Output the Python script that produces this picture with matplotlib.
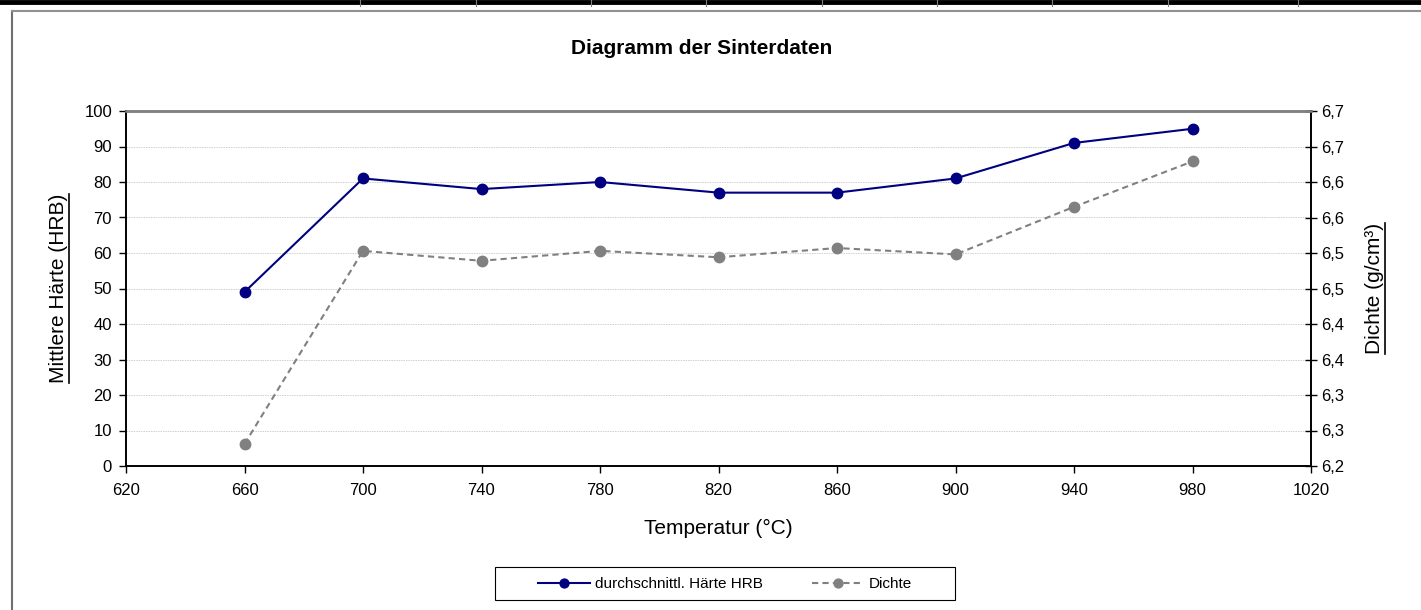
import numpy as np
import matplotlib
matplotlib.use("Agg")
from matplotlib import pyplot as plt
from matplotlib.lines import Line2D
from matplotlib.patches import Rectangle
from matplotlib.ticker import FuncFormatter

# Sinterdaten
temperatur = [660, 700, 740, 780, 820, 860, 900, 940, 980]
haerte = [49, 81, 78, 80, 77, 77, 81, 91, 95]
dichte = [6.231, 6.503, 6.489, 6.503, 6.494, 6.507, 6.498, 6.565, 6.629]

x_ticks = list(range(620, 1021, 40))
y1_ticks = list(range(0, 101, 10))
y2_ticks = np.arange(6.2, 6.701, 0.05)

plt.rcParams["font.family"] = ["Liberation Sans", "DejaVu Sans"]

fig = plt.figure(figsize=(14.21, 6.10), dpi=100)
ax = fig.add_axes([126 / 1421, 144 / 610, 1185 / 1421, 355 / 610])
ax2 = ax.twinx()

ax.plot(temperatur, haerte, color="#000080", linewidth=1.5, marker="o",
        markersize=7.5, label="durchschnittl. Härte HRB", zorder=3)
ax2.plot(temperatur, dichte, color="#808080", linewidth=1.5, linestyle=(0, (3, 2)),
         marker="o", markersize=7.5, label="Dichte", zorder=3)

ax.set_xlim(620, 1020)
ax.set_ylim(0, 100)
ax2.set_ylim(6.2, 6.7)
ax.set_xticks(x_ticks)
ax.set_yticks(y1_ticks)
ax2.set_yticks(y2_ticks)
ax2.yaxis.set_major_formatter(FuncFormatter(lambda v, p: f"{v + 1e-9:.1f}".replace(".", ",")))

ax.grid(axis="y", color="#d0d0d0", linestyle=(0, (1.5, 1)), linewidth=0.7)
ax.set_axisbelow(True)

for a in (ax, ax2):
    a.spines["top"].set_color("#808080")
    a.spines["top"].set_linewidth(1.8)
    for s in ("left", "bottom", "right"):
        a.spines[s].set_linewidth(1.2)
ax.tick_params(axis="y", labelsize=12, length=5, width=1, direction="out", pad=5)
ax.tick_params(axis="x", labelsize=12, length=5, width=1, direction="out", pad=7)
ax2.tick_params(axis="y", labelsize=12, length=8, width=1, direction="inout", pad=3)

ylab = ax.set_ylabel("Mittlere Härte (HRB)", fontsize=15)
ax.yaxis.set_label_coords((68 - 126) / 1185, 0.5)
y2lab = ax2.set_ylabel("Dichte (g/cm³)", fontsize=15)
ax2.yaxis.set_label_coords((1365 - 126) / 1185, 0.5)
ax.set_xlabel("Temperatur (°C)", fontsize=15)
ax.xaxis.set_label_coords(0.5, (466 - 519) / 355)

fig.text(702 / 1421, 1 - 48 / 610, "Diagramm der Sinterdaten", fontsize=15,
         fontweight="bold", ha="center", va="center")

# Legende mit eigenem Rahmen
h1, l1 = ax.get_legend_handles_labels()
h2, l2 = ax2.get_legend_handles_labels()
fig.legend(h1 + h2, l1 + l2, loc="center", bbox_to_anchor=(725 / 1421, 1 - 584 / 610),
           ncol=2, fontsize=11, frameon=False, handlelength=3.4, handletextpad=0.3,
           columnspacing=3.2, markerscale=0.85)
fig.add_artist(Rectangle((495 / 1421, 1 - 600 / 610), 460 / 1421, 33 / 610,
                         transform=fig.transFigure, fill=False, edgecolor="black", linewidth=0.8))

# unterstrichene Achsentitel
fig.canvas.draw()
inv = fig.transFigure.inverted()
for lab in (ylab, y2lab):
    bb = lab.get_window_extent()
    (x0, y0), (x1, y1) = inv.transform([[bb.x1 + 1, bb.y0], [bb.x1 + 1, bb.y1]])
    fig.add_artist(Line2D([x0, x1], [y0, y1], color="black", linewidth=1.2, transform=fig.transFigure))

# Diagrammrahmen und Tabellenzeile
fig.add_artist(Line2D([12 / 1421, 12 / 1421], [0, 1 - 11 / 610], color="#707070", linewidth=1.5))
fig.add_artist(Line2D([12 / 1421, 1], [1 - 11 / 610, 1 - 11 / 610], color="#909090", linewidth=1.5))
fig.add_artist(Line2D([0, 1], [1 - 2 / 610, 1 - 2 / 610], color="black", linewidth=3.5))
for xs in [360, 476, 591, 706, 822, 937, 1052, 1168, 1298]:
    fig.add_artist(Line2D([xs / 1421, xs / 1421], [1 - 6 / 610, 1], color="#808080", linewidth=0.8))

fig.savefig("out.png", dpi=100)
